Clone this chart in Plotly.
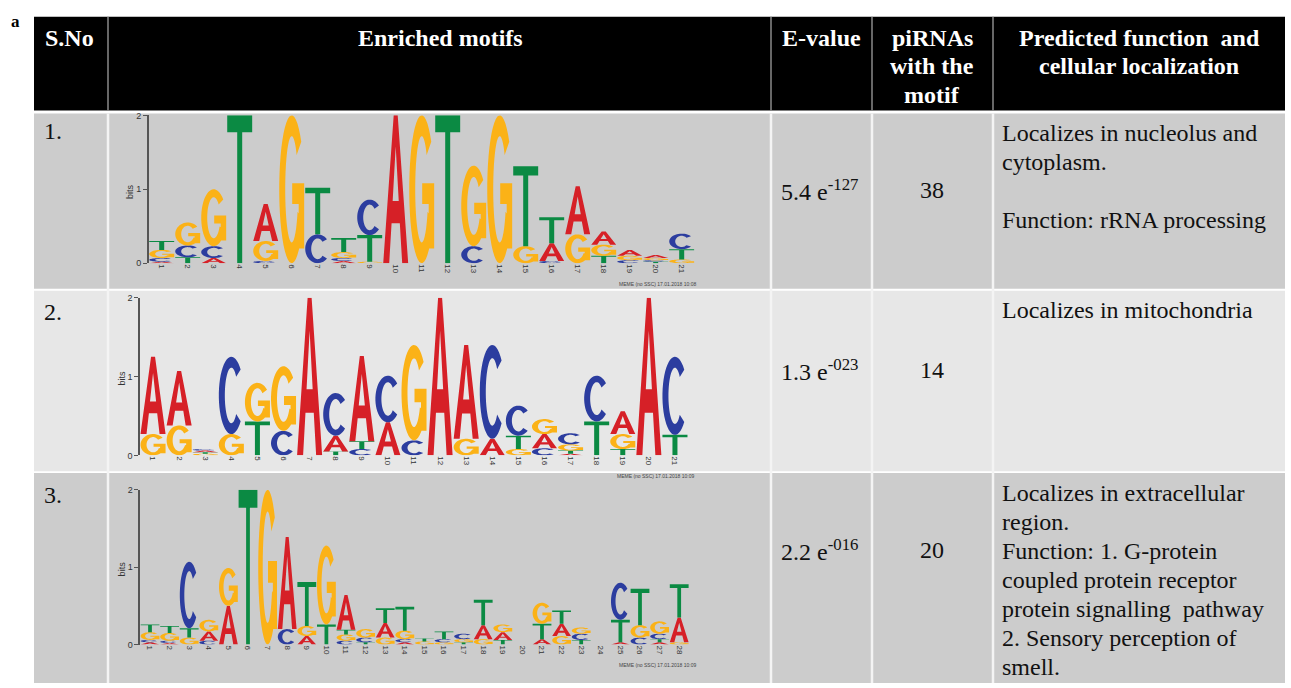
import numpy as np
import plotly.graph_objects as go

W, H = 1291, 688

# ---------------- data ----------------
header_cols = ["S.No", "Enriched motifs", "E-value", "piRNAs with the motif",
               "Predicted function and cellular localization"]
serial_nos = ["1.", "2.", "3."]
e_mantissa = ["5.4", "1.3", "2.2"]
e_exponent = ["-127", "-023", "-016"]
pirna_counts = ["38", "14", "20"]
function_lines = [
    ["Localizes in nucleolus and", "cytoplasm.", "", "Function: rRNA processing"],
    ["Localizes in mitochondria"],
    ["Localizes in extracellular", "region.", "Function: 1. G-protein",
     "coupled protein receptor", "protein signalling  pathway",
     "2. Sensory perception of", "smell."],
]

# letter stacks per position (bottom -> top), heights in bits
motif1 = [
    [("A", 0.02), ("C", 0.05), ("G", 0.11), ("T", 0.12)],
    [("T", 0.08), ("C", 0.16), ("G", 0.31)],
    [("A", 0.07), ("C", 0.16), ("G", 0.77)],
    [("T", 2.0)],
    [("C", 0.03), ("G", 0.27), ("A", 0.50)],
    [("G", 2.0)],
    [("C", 0.39), ("T", 0.63)],
    [("A", 0.03), ("C", 0.04), ("G", 0.08), ("T", 0.19)],
    [("G", 0.02), ("T", 0.36), ("C", 0.48)],
    [("A", 2.0)],
    [("G", 2.0)],
    [("T", 2.0)],
    [("C", 0.23), ("G", 1.09)],
    [("G", 2.0)],
    [("G", 0.23), ("T", 1.08)],
    [("C", 0.03), ("A", 0.24), ("T", 0.35)],
    [("G", 0.39), ("A", 0.65)],
    [("T", 0.10), ("G", 0.15), ("A", 0.18)],
    [("C", 0.04), ("G", 0.06), ("A", 0.08)],
    [("T", 0.02), ("C", 0.02), ("G", 0.03), ("A", 0.04)],
    [("G", 0.05), ("T", 0.14), ("C", 0.21)],
]
motif2 = [
    [("G", 0.27), ("A", 0.98)],
    [("G", 0.38), ("A", 0.69)],
    [("G", 0.02), ("T", 0.02), ("A", 0.02), ("C", 0.02)],
    [("G", 0.27), ("C", 0.98)],
    [("T", 0.43), ("G", 0.49)],
    [("C", 0.31), ("G", 0.82)],
    [("A", 2.0)],
    [("T", 0.05), ("A", 0.20), ("C", 0.54)],
    [("C", 0.08), ("T", 0.10), ("A", 1.08)],
    [("A", 0.42), ("C", 0.59)],
    [("C", 0.19), ("G", 1.21)],
    [("A", 2.0)],
    [("G", 0.21), ("A", 1.19)],
    [("A", 0.21), ("C", 1.19)],
    [("G", 0.08), ("T", 0.17), ("C", 0.38)],
    [("C", 0.09), ("A", 0.18), ("G", 0.19)],
    [("A", 0.02), ("T", 0.04), ("G", 0.08), ("C", 0.14)],
    [("T", 0.43), ("C", 0.58)],
    [("T", 0.08), ("G", 0.19), ("A", 0.29)],
    [("A", 2.0)],
    [("T", 0.26), ("C", 0.99)],
]
motif3 = [
    [("A", 0.03), ("C", 0.03), ("G", 0.10), ("T", 0.10)],
    [("A", 0.02), ("C", 0.03), ("G", 0.10), ("T", 0.09)],
    [("G", 0.09), ("T", 0.12), ("C", 0.86)],
    [("C", 0.05), ("A", 0.12), ("G", 0.15)],
    [("A", 0.50), ("G", 0.49)],
    [("T", 2.0)],
    [("G", 2.0)],
    [("C", 0.20), ("A", 1.19)],
    [("A", 0.11), ("G", 0.13), ("T", 0.57)],
    [("T", 0.26), ("G", 1.02)],
    [("C", 0.05), ("G", 0.08), ("T", 0.06), ("A", 0.45)],
    [("T", 0.03), ("C", 0.06), ("G", 0.11)],
    [("G", 0.09), ("A", 0.19), ("T", 0.19)],
    [("A", 0.03), ("C", 0.04), ("G", 0.11), ("T", 0.31)],
    [("G", 0.04), ("T", 0.04)],
    [("G", 0.03), ("C", 0.04), ("T", 0.10)],
    [("T", 0.03), ("G", 0.04), ("C", 0.07)],
    [("G", 0.07), ("A", 0.18), ("T", 0.33)],
    [("T", 0.06), ("A", 0.10), ("G", 0.10)],
    [],
    [("A", 0.07), ("T", 0.20), ("G", 0.27)],
    [("G", 0.11), ("A", 0.16), ("T", 0.17)],
    [("T", 0.06), ("C", 0.08), ("G", 0.08)],
    [],
    [("A", 0.03), ("T", 0.29), ("C", 0.48)],
    [("C", 0.09), ("G", 0.16), ("T", 0.47)],
    [("A", 0.03), ("T", 0.04), ("C", 0.07), ("G", 0.16)],
    [("G", 0.03), ("A", 0.32), ("T", 0.43)],
]
motifs = [motif1, motif2, motif3]
meme_stamps = ["MEME (no SSC) 17.01.2018 10:08", "MEME (no SSC) 17.01.2018 10:09",
               "MEME (no SSC) 17.01.2018 10:09"]

base_colors = {"A": "#d62027", "C": "#2c3d9f", "G": "#fbb217", "T": "#0b8a43"}

# ---------------- layout geometry (pixels) ----------------
TL, TR = 34, 1285
col_x = [TL, 108, 771, 872, 993, TR]
head_top, head_bot = 12, 107
row_y = [(110, 288), (290, 473), (475, 688)]
row_fill = ["#cccccc", "#e7e7e7", "#cccccc"]
# logo plot areas: (x_left, x_right, y_top, y_bottom)
logo_box = [(148.7, 694.7, 112, 262), (140.0, 688.0, 297, 457), (140.2, 689.0, 492, 649)]

SERIF = "Liberation Serif, Times New Roman, serif"
SANS = "Liberation Sans, Arial, sans-serif"

def px(x):
    return x / W

def py(y):
    return 1 - y / H

# ---------------- glyphs in unit box ----------------
def ring(a0, a1, tx, ty, n=40):
    ang = np.radians(np.linspace(a0, a1, n))
    outer = [(0.5 + 0.5 * np.cos(a), 0.5 + 0.5 * np.sin(a)) for a in ang]
    inner = [(0.5 + (0.5 - tx) * np.cos(a), 0.5 + (0.5 - ty) * np.sin(a)) for a in ang[::-1]]
    return outer + inner

def glyph(letter):
    if letter == "A":
        outer = [(0, 0), (0.24, 0), (0.335, 0.27), (0.665, 0.27), (0.76, 0),
                 (1, 0), (0.58, 1), (0.42, 1)]
        hole = [(0.378, 0.42), (0.5, 0.79), (0.622, 0.42)]
        return [outer, hole]
    if letter == "T":
        return [[(0.4, 0), (0.6, 0), (0.6, 0.885), (1, 0.885), (1, 1), (0, 1),
                 (0, 0.885), (0.4, 0.885)]]
    if letter == "C":
        return [ring(42, 318, 0.24, 0.14)]
    if letter == "G":
        bar = [(0.52, 0.40), (0.78, 0.40), (0.78, 0.10), (1.0, 0.10),
               (1.0, 0.54), (0.52, 0.54)]
        return [ring(40, 335, 0.24, 0.14), bar]
    return []

def fix_orientation(polys):
    # outer polygons CCW, the A's hole CW
    res = []
    for i, p in enumerate(polys):
        arr = np.array(p)
        area = 0.5 * np.sum(arr[:, 0] * np.roll(arr[:, 1], -1) - np.roll(arr[:, 0], -1) * arr[:, 1])
        want_ccw = not (len(polys) == 2 and i == 1 and len(p) == 3)
        if (area > 0) != want_ccw:
            p = p[::-1]
        res.append(p)
    return res

def letter_path(letter, xc, y0, h, w=0.96):
    parts = []
    for poly in fix_orientation(glyph(letter)):
        pts = ["{:.4f},{:.5f}".format(xc - w / 2 + gx * w, y0 + gy * h) for gx, gy in poly]
        parts.append("M" + " L".join(pts) + " Z")
    return " ".join(parts)

# ---------------- figure ----------------
fig = go.Figure()
shapes = []
annotations = []

# header background and separators
shapes.append(dict(type="rect", xref="paper", yref="paper", x0=px(TL), x1=px(TR),
                   y0=py(head_bot), y1=py(head_top), fillcolor="black",
                   line=dict(width=0), layer="below"))
for cx in col_x[1:-1]:
    shapes.append(dict(type="line", xref="paper", yref="paper", x0=px(cx), x1=px(cx),
                       y0=py(head_bot), y1=py(head_top), line=dict(color="#8a8a8a", width=1.5),
                       layer="below"))
# body rows
for (y0, y1), fc in zip(row_y, row_fill):
    shapes.append(dict(type="rect", xref="paper", yref="paper", x0=px(TL), x1=px(TR),
                       y0=py(y1), y1=py(y0), fillcolor=fc, line=dict(width=0), layer="below"))
for cx in col_x[1:-1]:
    shapes.append(dict(type="line", xref="paper", yref="paper", x0=px(cx), x1=px(cx),
                       y0=py(H), y1=py(row_y[0][0]), line=dict(color="#f4f4f4", width=2.5),
                       layer="below"))

# header text
hfont = dict(family=SERIF, size=24, color="white")
def header_line(text, x, y, anchor="center"):
    annotations.append(dict(xref="paper", yref="paper", x=px(x), y=py(y), text="<b>%s</b>" % text,
                            showarrow=False, xanchor=anchor, yanchor="middle", font=hfont))
header_line(header_cols[0], 43, 33, "left")
header_line(header_cols[1], 440, 33)
header_line(header_cols[2], 821, 33)
for t, yy in zip(["piRNAs", "with the", "motif"], [33, 62, 91]):
    header_line(t, 932, yy)
for t, yy in zip(["Predicted function  and", "cellular localization"], [33, 62]):
    header_line(t, 1139, yy)

annotations.append(dict(xref="paper", yref="paper", x=px(9), y=py(17), text="<b>a</b>",
                        showarrow=False, xanchor="left", yanchor="middle",
                        font=dict(family=SERIF, size=17, color="black")))

# body text
bfont = dict(family=SERIF, size=24, color="#111111")
sno_y = [128, 312, 497]
mid_y = [188, 370, 553]
func_y0 = [130, 310, 495]
line_gap = 29.4
for i in range(3):
    annotations.append(dict(xref="paper", yref="paper", x=px(42), y=py(sno_y[i]), text=serial_nos[i],
                            showarrow=False, xanchor="left", yanchor="middle", font=bfont))
    annotations.append(dict(xref="paper", yref="paper", x=px(779), y=py(mid_y[i]),
                            text="%s e<sup>%s</sup>" % (e_mantissa[i], e_exponent[i]),
                            showarrow=False, xanchor="left", yanchor="middle", font=bfont))
    annotations.append(dict(xref="paper", yref="paper", x=px(932), y=py(mid_y[i]), text=pirna_counts[i],
                            showarrow=False, xanchor="center", yanchor="middle", font=bfont))
    for k, t in enumerate(function_lines[i]):
        if t:
            annotations.append(dict(xref="paper", yref="paper", x=px(1000),
                                    y=py(func_y0[i] + k * line_gap), text=t,
                                    showarrow=False, xanchor="left", yanchor="middle", font=bfont))

# sequence logos
for m, motif in enumerate(motifs):
    k = "" if m == 0 else str(m + 1)
    xl, xr, yt, yb = logo_box[m]
    n = len(motif)
    positions = list(range(1, n + 1))
    totals = [sum(h for _, h in col) for col in motif]
    fig.add_trace(go.Scatter(x=positions, y=totals, mode="markers", marker=dict(opacity=0),
                             hoverinfo="skip", showlegend=False, xaxis="x" + k, yaxis="y" + k))
    for pos, col in zip(positions, motif):
        y0 = 0.0
        for letter, h in col:
            shapes.append(dict(type="path", xref="x" + k, yref="y" + k,
                               path=letter_path(letter, pos, y0, h),
                               fillcolor=base_colors[letter], line=dict(width=0),
                               fillrule="nonzero", layer="above"))
            y0 += h
    fig.update_layout(**{
        "xaxis" + k: dict(domain=[px(xl), px(xr)], range=[0.5, n + 0.5], anchor="y" + k,
                          showgrid=False, zeroline=False, showline=False, ticks="",
                          tickvals=positions, ticktext=[str(p) for p in positions],
                          tickangle=90, tickfont=dict(family=SANS, size=8, color="#333"),
                          fixedrange=True),
        "yaxis" + k: dict(domain=[py(yb), py(yt)], range=[0, 2], anchor="x" + k,
                          showgrid=False, zeroline=False, showline=True, linecolor="#555",
                          linewidth=1.5, ticks="outside", ticklen=4, tickcolor="#555",
                          tickvals=[0, 1, 2], ticktext=["0", "1", "2"],
                          tickfont=dict(family=SANS, size=9, color="#333"),
                          fixedrange=True),
    })
    annotations.append(dict(xref="paper", yref="paper", x=px(xl - 18), y=py((yt + yb) / 2 + 2),
                            text="bits", textangle=-90, showarrow=False, xanchor="center",
                            yanchor="middle", font=dict(family=SANS, size=9, color="#333")))

stamp_pos = [(657, 283), (655, 478), (657, 670)]
for (sx, sy), st in zip(stamp_pos, meme_stamps):
    annotations.append(dict(xref="paper", yref="paper", x=px(sx), y=py(sy), text=st,
                            showarrow=False, xanchor="center", yanchor="middle",
                            font=dict(family=SANS, size=5, color="#444")))

fig.update_layout(width=W, height=H, margin=dict(l=0, r=0, t=0, b=0),
                  paper_bgcolor="white", plot_bgcolor="rgba(0,0,0,0)",
                  shapes=shapes, annotations=annotations, showlegend=False)

fig.write_html("out.html", config={"displayModeBar": False},
               post_script="document.body.style.margin='0';document.body.style.overflow='hidden';")
